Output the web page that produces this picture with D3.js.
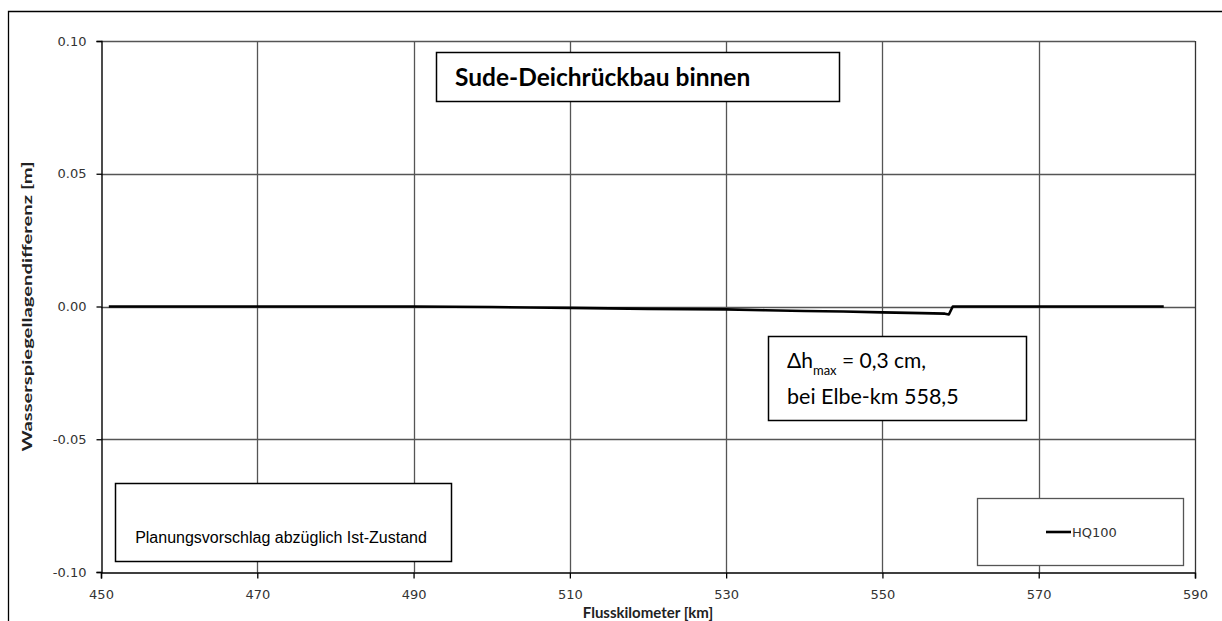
<!DOCTYPE html>
<html><head><meta charset="utf-8">
<script src="https://cdn.jsdelivr.net/npm/d3@7"></script>
<style>
html,body{margin:0;padding:0;background:#fff;}
svg{display:block;}
</style></head>
<body>
<svg id="chart" width="1222" height="621"></svg>
<script>
// Data
const km   = [451, 460, 470, 480, 490, 495, 500, 505, 510, 515, 520, 525, 530, 535, 540, 545, 550, 555, 558, 558.5, 559, 565, 570, 575, 580, 586];
const hq100 = [0, 0, 0, 0, 0, -0.0001, -0.0002, -0.0004, -0.0005, -0.0007, -0.0009, -0.0010, -0.0011, -0.0014, -0.0017, -0.0019, -0.0022, -0.0025, -0.0027, -0.0030, 0, 0, 0, 0, 0, 0];
const xTicks = [450, 470, 490, 510, 530, 550, 570, 590];
const yTicks = [-0.10, -0.05, 0.00, 0.05, 0.10];
const titleText = "Sude-Deichrückbau binnen";
const noteText = "Planungsvorschlag abzüglich Ist-Zustand";
const seriesName = "HQ100";
const xTitle = "Flusskilometer [km]";
const yTitle = "Wasserspiegellagendifferenz [m]";

const svg = d3.select("#chart");
const m = {left:101, right:1195, top:41, bottom:572};
const x = d3.scaleLinear().domain([450, 590]).range([m.left, m.right]);
const y = d3.scaleLinear().domain([-0.10, 0.10]).range([m.bottom, m.top]);

// outer frame
svg.append("path").attr("d", "M8.5,623 V11.5 H1224").attr("fill","none").attr("stroke","#000").attr("stroke-width",1.3);

// grid
const g = svg.append("g");
g.selectAll(".vg").data(xTicks.filter(d=>d>450 && d<590)).enter().append("line")
  .attr("x1",d=>Math.round(x(d))+0.5).attr("x2",d=>Math.round(x(d))+0.5)
  .attr("y1",m.top).attr("y2",m.bottom).attr("stroke","#555").attr("stroke-width",1.3);
g.selectAll(".hg").data(yTicks.filter(d=>d>-0.1)).enter().append("line")
  .attr("x1",m.left).attr("x2",m.right)
  .attr("y1",d=>Math.round(y(d))+0.5).attr("y2",d=>Math.round(y(d))+0.5).attr("stroke","#555").attr("stroke-width",1.3);
// right border
g.append("line").attr("x1",m.right+0.5).attr("x2",m.right+0.5).attr("y1",m.top).attr("y2",m.bottom)
  .attr("stroke","#333").attr("stroke-width",1.3);

// axes
const fmtY = d => d3.format(".2f")(d).replace("\u2212","-");
const xAxis = d3.axisBottom(x).tickValues(xTicks).tickFormat(d3.format("d")).tickSizeOuter(0).tickSize(6);
const yAxis = d3.axisLeft(y).tickValues(yTicks).tickFormat(fmtY).tickSizeOuter(0).tickSize(5).tickPadding(10);
const gx = svg.append("g").attr("transform",`translate(0,${m.bottom+0.5})`).call(xAxis);
const gy = svg.append("g").attr("transform",`translate(${m.left+0.5},0)`).call(yAxis);
[gx,gy].forEach(a=>{
  a.select(".domain").attr("stroke","#000").attr("stroke-width",1.4);
  a.selectAll(".tick line").attr("stroke","#000").attr("stroke-width",1.3);
  a.selectAll(".tick text").attr("fill","#333").style("font-family","'DejaVu Sans', sans-serif").style("font-size","13px");
});
gx.selectAll(".tick text").attr("y",26.5).attr("dy",0);

// data line
const line = d3.line().x((d,i)=>x(km[i])).y(d=>y(d));
svg.append("path").datum(hq100).attr("d", line).attr("fill","none").attr("stroke","#000").attr("stroke-width",2.6).attr("stroke-linejoin","round");

// title box
svg.append("rect").attr("x",436.5).attr("y",52.5).attr("width",403).attr("height",49).attr("fill","#fff").attr("stroke","#000").attr("stroke-width",1.5);
svg.append("text").attr("x",455).attr("y",86).text(titleText)
  .style("font-family","Lato, 'Open Sans', sans-serif").style("font-weight","bold").style("font-size","24.5px").attr("fill","#000");

// annotation box
svg.append("rect").attr("x",768.5).attr("y",336.5).attr("width",258).attr("height",84).attr("fill","#fff").attr("stroke","#000").attr("stroke-width",1.5);
const t1 = svg.append("text").attr("x",787).attr("y",368).style("font-family","Lato, sans-serif").style("font-size","21px").attr("fill","#000");
t1.append("tspan").text("Δh");
t1.append("tspan").attr("dy",7).style("font-size","13px").text("max");
t1.append("tspan").attr("dy",-7).text(" = 0,3 cm,");
svg.append("text").attr("x",787).attr("y",404).style("font-family","Lato, sans-serif").style("font-size","21.5px").attr("fill","#000").text("bei Elbe-km 558,5");

// lower-left box
svg.append("rect").attr("x",115.5).attr("y",483.5).attr("width",336).attr("height",78).attr("fill","#fff").attr("stroke","#000").attr("stroke-width",1.5);
svg.append("text").attr("x",281).attr("y",543).attr("text-anchor","middle").text(noteText)
  .style("font-family","'Liberation Sans', Arial, sans-serif").style("font-size","16px").attr("fill","#000");

// legend
svg.append("rect").attr("x",977.5).attr("y",498.5).attr("width",206).attr("height",67).attr("fill","#fff").attr("stroke","#555").attr("stroke-width",1.3);
svg.append("line").attr("x1",1046).attr("x2",1071).attr("y1",532).attr("y2",532).attr("stroke","#000").attr("stroke-width",2.6);
svg.append("text").attr("x",1072).attr("y",537).text(seriesName)
  .style("font-family","'DejaVu Sans', sans-serif").style("font-size","13px").attr("fill","#333");

// axis titles
svg.append("text").attr("x",(m.left+m.right)/2).attr("y",618).attr("text-anchor","middle").text(xTitle)
  .style("font-family","Lato, sans-serif").style("font-weight","bold").style("font-size","15px").attr("fill","#222");
svg.append("text").attr("transform",`translate(32,${(m.top+m.bottom)/2}) rotate(-90)`).attr("text-anchor","middle").text(yTitle)
  .attr("textLength",290).attr("lengthAdjust","spacingAndGlyphs")
  .style("font-family","Lato, sans-serif").style("font-weight","bold").style("font-size","14px").attr("fill","#222");
</script>
</body></html>
